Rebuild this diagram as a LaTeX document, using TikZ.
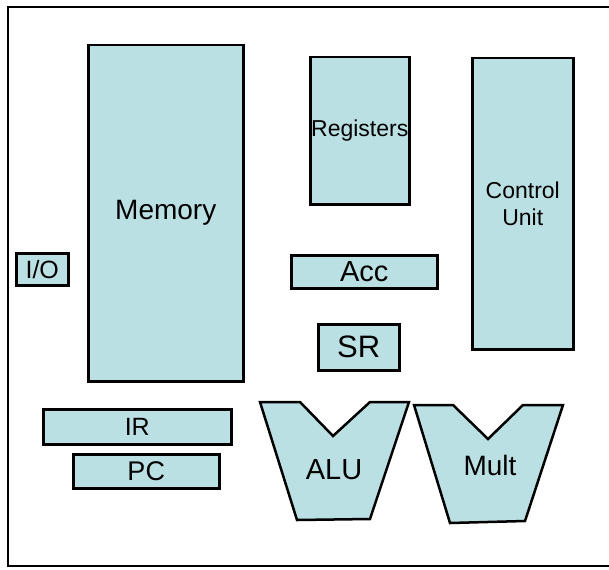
\documentclass[tikz,border=0pt]{standalone}
\usepackage{fontspec}
\setmainfont{Liberation Sans}
\definecolor{unitfill}{RGB}{187,224,227}
\newcommand{\fs}[1]{\fontsize{#1}{1.15\dimexpr#1pt\relax}\selectfont}

\begin{document}
\begin{tikzpicture}[x=1pt,y=-1pt,
  unit/.style={draw=black,line width=2.5pt,fill=unitfill,inner sep=0pt,
    anchor=north west,align=center},
  shell/.style={draw=black,line width=2.5pt,line join=miter,fill=unitfill}]

\useasboundingbox (0,0) rectangle (609,569);
\draw[line width=2.5pt] (614,7) -- (8,7) -- (8,566) -- (614,566);

% storage
\node[unit,minimum width=155,minimum height=336,font=\fs{28}] (memory) at (87,44) {Memory};
\node[unit,minimum width=99,minimum height=147,font=\fs{23}] (registers) at (309,56) {Registers};
\node[unit,minimum width=101,minimum height=291,font=\fs{23}] (control) at (471,57) {Control\\Unit};
\node[unit,minimum width=52,minimum height=32,font=\fs{25}] (io) at (15,252) {I/O};
\node[unit,minimum width=146,minimum height=33,font=\fs{29}] (acc) at (290,254) {Acc};
\node[unit,minimum width=81,minimum height=46,font=\fs{31}] (sr) at (317,323) {SR};
\node[unit,minimum width=188,minimum height=35,font=\fs{25}] (ir) at (42,408) {IR};
\node[unit,minimum width=146,minimum height=34,font=\fs{27}] (pc) at (72,453) {PC};

% ALU and multiplier
\draw[shell] (260,402) -- (300,402) -- (333,436) -- (370,402) -- (409,402)
  -- (370,519) -- (297,520) -- cycle;
\node[font=\fs{29}] (alu) at (334,470) {ALU};
\draw[shell] (414,405) -- (453,405) -- (488,439) -- (523,405) -- (563,405)
  -- (525,521) -- (450,523) -- cycle;
\node[font=\fs{28}] (mult) at (490,465) {Mult};
\end{tikzpicture}
\end{document}
